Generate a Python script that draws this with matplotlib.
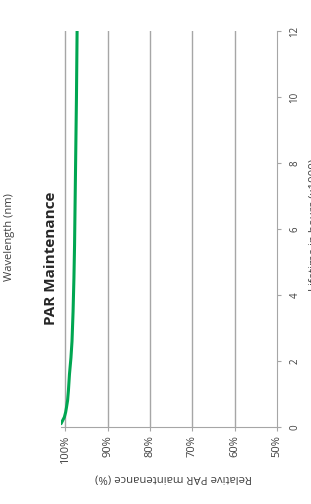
import matplotlib
matplotlib.use('Agg')
import matplotlib.pyplot as plt

# lifetime in hours (x1000) and relative PAR maintenance (%)
hours = [0.1, 0.2, 0.3, 0.45, 0.6, 0.8, 1.1, 1.6, 2.1, 2.6, 3.5, 4.5, 5.5, 7.0, 8.5, 10.0, 12.0]
par = [101.0, 100.6, 100.2, 99.9, 99.7, 99.45, 99.25, 99.0, 98.65, 98.4, 98.15, 97.95, 97.8, 97.65, 97.5, 97.35, 97.2]

pct_ticks = [100, 90, 80, 70, 60, 50]
pct_labels = ['100%', '90%', '80%', '70%', '60%', '50%']
hour_ticks = [0, 2, 4, 6, 8, 10, 12]

plt.rcParams['font.family'] = ['Open Sans', 'DejaVu Sans']
grey = '#a6a6a6'
txt = '#404040'

fig = plt.figure(figsize=(3.11, 5.04), dpi=100)
ax = fig.add_axes([61 / 311, 77 / 504, 216 / 311, 396 / 504])

# chart is shown turned on its side: percent runs across, hours run up
ax.plot(par, hours, color='#00a651', linewidth=2.2, solid_capstyle='round', zorder=3)
ax.set_xlim(101, 50)
ax.set_ylim(0, 12)

for p in pct_ticks[:-1]:
    ax.axvline(p, color=grey, linewidth=1, zorder=1)

ax.spines['top'].set_visible(False)
ax.spines['left'].set_visible(False)
ax.spines['right'].set_color(grey)
ax.spines['bottom'].set_color(grey)

ax.set_xticks(pct_ticks)
ax.set_xticklabels(pct_labels, rotation=90, fontsize=8, color=txt)
ax.set_yticks(hour_ticks)
ax.set_yticklabels([str(h) for h in hour_ticks], rotation=90, fontsize=7, color=txt, va='center')
ax.yaxis.tick_right()
ax.tick_params(axis='x', colors=grey, labelcolor=txt, length=3, pad=3)
ax.tick_params(axis='y', colors=grey, labelcolor=txt, length=3, pad=6)

fig.text(51 / 311, 1 - 258 / 504, 'PAR Maintenance', rotation=90, fontsize=11,
         fontweight='bold', color='#262626', ha='center', va='center')
fig.text(10 / 311, 1 - 237 / 504, 'Wavelength (nm)', rotation=90, fontsize=8,
         color=txt, ha='center', va='center')
fig.text(174 / 311, 1 - 478 / 504, 'Relative PAR maintenance (%)', rotation=180, fontsize=8.2,
         color=txt, ha='center', va='center')
fig.text(314 / 311, 1 - 225 / 504, 'Lifetime in hours (x1000)', rotation=90, fontsize=8.2,
         color=txt, ha='center', va='center')

fig.savefig('out.png', dpi=100)
